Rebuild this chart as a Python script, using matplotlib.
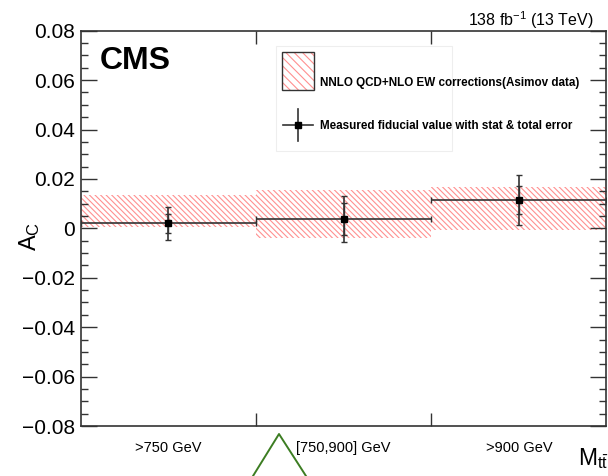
import matplotlib
matplotlib.use("Agg")
import matplotlib.pyplot as plt
from matplotlib.patches import Rectangle
from matplotlib.lines import Line2D

plt.rcParams['font.family'] = ['Liberation Sans', 'DejaVu Sans']
plt.rcParams['mathtext.fontset'] = 'custom'
plt.rcParams['mathtext.rm'] = 'Liberation Sans'
plt.rcParams['mathtext.it'] = 'Liberation Sans'
plt.rcParams['hatch.linewidth'] = 0.8

# values
categories = ['>750 GeV', '[750,900] GeV', '>900 GeV']
ac_meas = [0.0020, 0.0038, 0.0115]
err_total = [0.0068, 0.0095, 0.0101]
err_stat = [0.0040, 0.0064, 0.0058]
band_lo = [0.0006, -0.0038, -0.0005]
band_hi = [0.0137, 0.0155, 0.0166]

hatch_col = '#ff9090'
hatch_pat = '\\' * 6
line_col = '#333333'

fig = plt.figure(figsize=(6.08, 4.76), dpi=100)
ax = fig.add_axes([0.1327, 0.105, 0.8648, 0.8305])

xpos = list(range(len(categories)))

# prediction band
heights = [h - l for h, l in zip(band_hi, band_lo)]
ax.bar(xpos, heights, bottom=band_lo, width=1.0, fill=False, hatch=hatch_pat,
       edgecolor=hatch_col, linewidth=0)

# measured values: total error + stat error
ax.errorbar(xpos, ac_meas, xerr=0.5, yerr=err_total, fmt='s', color=line_col,
            mfc='black', mec='black', ms=5, elinewidth=1.2, capsize=2, capthick=1)
ax.errorbar(xpos, ac_meas, yerr=err_stat, fmt='none', ecolor=line_col,
            elinewidth=1.0, capsize=2, capthick=1)

ax.set_xlim(-0.5, 2.5)
ax.set_ylim(-0.08, 0.08)

# x axis: ticks at bin edges, labels at centres
ax.set_xticks([0.5, 1.5])
ax.set_xticklabels([])
ax.set_xticks(xpos, minor=True)
ax.set_xticklabels(categories, minor=True)
ax.tick_params(axis='x', which='major', direction='in', length=9.5, width=1,
               top=True, bottom=True, color=line_col)
ax.tick_params(axis='x', which='minor', length=0, pad=11, labelsize=10.5)

ax.set_yticks([-0.08, -0.06, -0.04, -0.02, 0, 0.02, 0.04, 0.06, 0.08])
ax.set_yticklabels(['\u22120.08', '\u22120.06', '\u22120.04', '\u22120.02', '0',
                    '0.02', '0.04', '0.06', '0.08'])
ax.set_yticks([v / 1000 for v in range(-75, 80, 5) if v % 20 != 0], minor=True)
ax.tick_params(axis='y', which='major', direction='in', length=11.5, width=1,
               left=True, right=True, labelsize=15, pad=4, color=line_col)
ax.tick_params(axis='y', which='minor', direction='in', length=5, width=1,
               left=True, right=True, color=line_col)

for s in ax.spines.values():
    s.set_color(line_col)
    s.set_linewidth(1.2)

ax.set_ylabel(r'A$_{\mathrm{C}}$', fontsize=17)
ax.yaxis.set_label_coords(-0.074, 0.48)
fig.text(0.951, 0.022, r'M$_{\mathrm{t\bar{t}}}$', fontsize=16.5, ha='left', va='baseline')

# CMS label and lumi
ax.text(0.037, 0.923, 'CMS', transform=ax.transAxes, fontsize=23,
        fontweight='bold', va='center', ha='left')
fig.text(0.976, 0.958, r'138 fb$^{-1}$ (13 TeV)', fontsize=11.5, ha='right',
         va='center')

# legend drawn by hand, ROOT style
ax.add_patch(Rectangle((0.372, 0.696), 0.334, 0.265, transform=ax.transAxes,
                       fill=False, edgecolor='#eeeeee', linewidth=0.8))
ax.add_patch(Rectangle((0.383, 0.850), 0.061, 0.096, transform=ax.transAxes,
                       fill=False, hatch='\\' * 4, edgecolor=hatch_col, linewidth=0))
ax.add_patch(Rectangle((0.383, 0.850), 0.061, 0.096, transform=ax.transAxes,
                       fill=False, edgecolor=line_col, linewidth=1))
ax.text(0.455, 0.868, 'NNLO QCD+NLO EW corrections(Asimov data)',
        transform=ax.transAxes, fontsize=8.4, fontweight='bold', va='center')
ax.add_line(Line2D([0.385, 0.442], [0.761, 0.761], transform=ax.transAxes,
                   color=line_col, lw=1.2))
ax.add_line(Line2D([0.413, 0.413], [0.720, 0.803], transform=ax.transAxes,
                   color=line_col, lw=1.2))
ax.add_line(Line2D([0.413], [0.761], transform=ax.transAxes, marker='s',
                   ms=5, color='black'))
ax.text(0.455, 0.758, 'Measured fiducial value with stat & total error',
        transform=ax.transAxes, fontsize=8.4, fontweight='bold', va='center')

# green annotation mark below the axis
fig.add_artist(Line2D([253 / 608, 279 / 608, 306 / 608],
                      [0.0, 1 - 434 / 476, 0.0], transform=fig.transFigure,
                      color='#3c7d22', lw=1.4))

fig.savefig('out.png', dpi=100)
